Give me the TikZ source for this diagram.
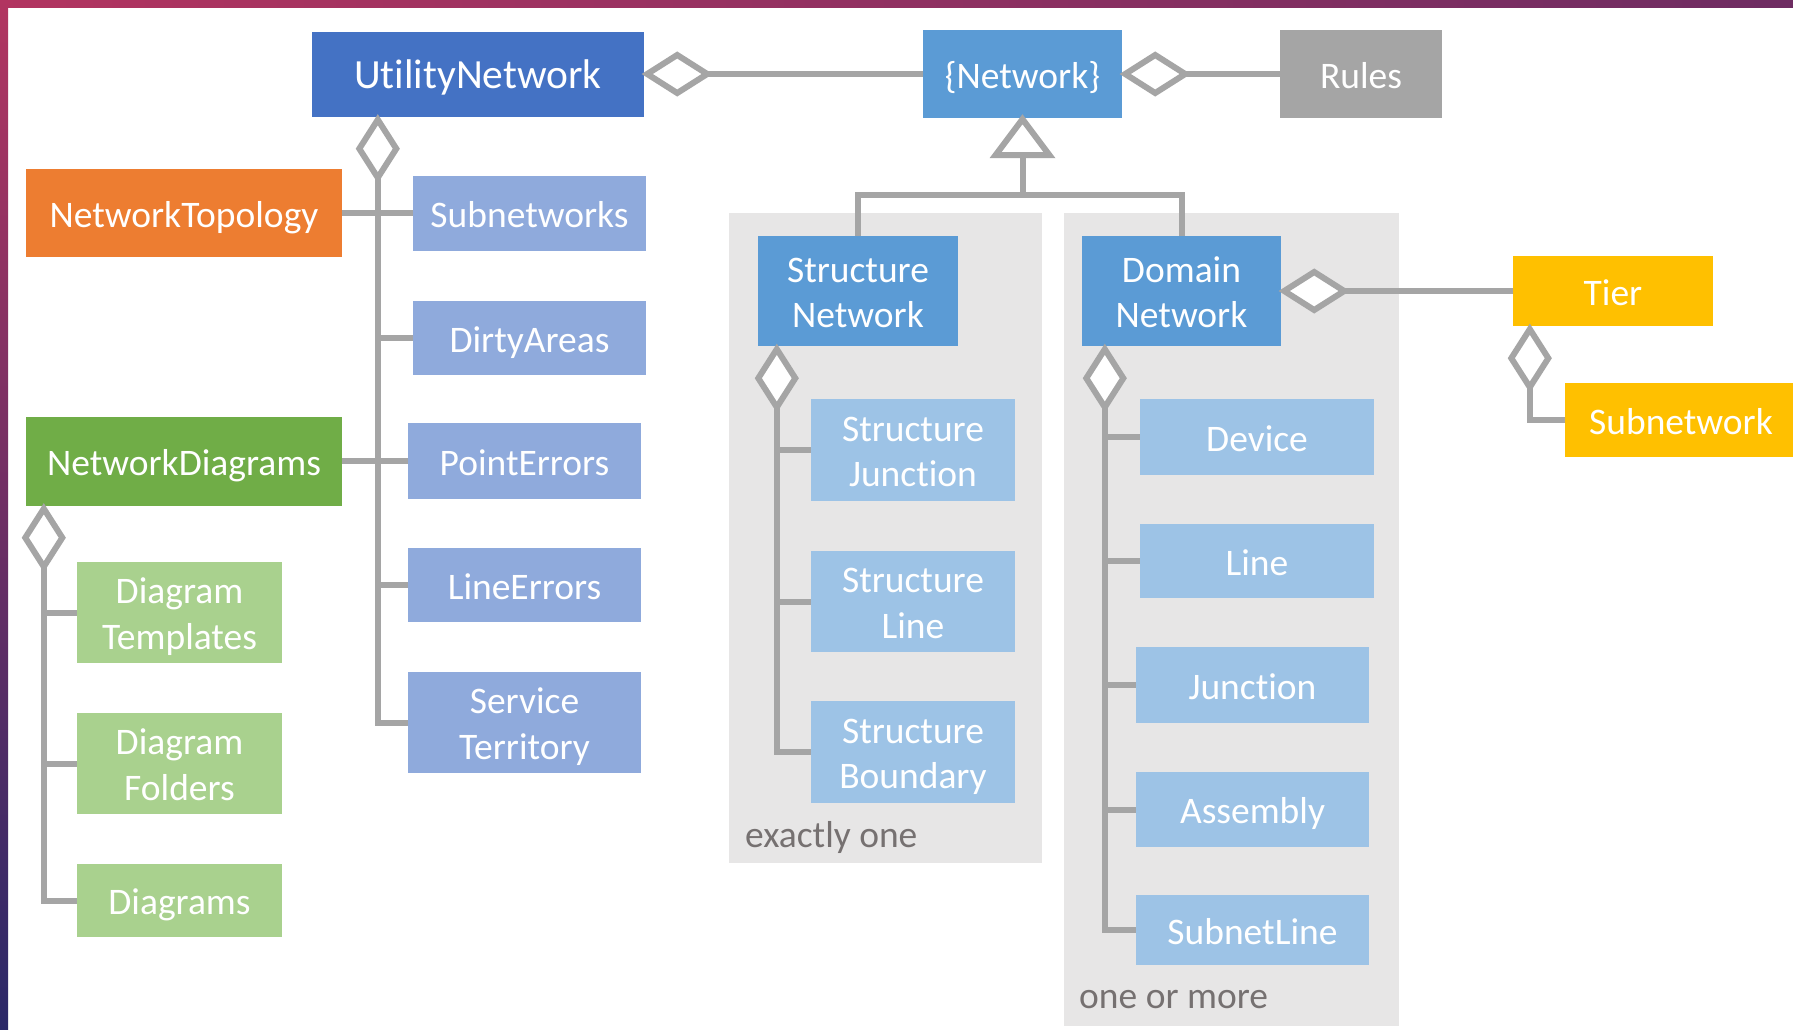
\documentclass[tikz,border=0pt]{standalone}
\usepackage{fontspec}
\setmainfont{Carlito}[RawFeature=-liga]
\usetikzlibrary{calc}
\definecolor{cUtil}{HTML}{4472C4}
\definecolor{cNet}{HTML}{5B9BD5}
\definecolor{cSubU}{HTML}{8FAADC}
\definecolor{cSubN}{HTML}{9DC3E6}
\definecolor{cGrayBox}{HTML}{A5A5A5}
\definecolor{cOrange}{HTML}{ED7D31}
\definecolor{cGreen}{HTML}{70AD47}
\definecolor{cLGreen}{HTML}{A9D18E}
\definecolor{cGold}{HTML}{FFC000}
\definecolor{cPanel}{HTML}{E7E6E6}
\definecolor{cLine}{HTML}{A5A5A5}
\definecolor{cNote}{HTML}{767171}
\definecolor{cBandA}{RGB}{178,52,96}
\definecolor{cBandB}{RGB}{110,44,98}
\definecolor{cBandC}{RGB}{42,40,104}
\newcommand\mystrut{\rule[-8pt]{0pt}{44pt}}
\begin{document}
\begin{tikzpicture}[x=1pt,y=-1pt,
  box/.style={rectangle, inner sep=0pt, align=center, text=white,
    font=\fontsize{37.5}{45.5}\selectfont},
  conn/.style={draw=cLine, line width=6pt, line join=miter},
  note/.style={inner sep=0pt, anchor=base west, text=cNote,
    font=\fontsize{37.5}{45.5}\selectfont}]
\clip (0,0) rectangle (1793,1029);
\fill[white] (0,0) rectangle (1793,1029);
\begin{scope}[y=1pt]
  \shade[left color=cBandA, right color=cBandB] (0,-7) rectangle (1793,0);
  \shade[top color=cBandA, bottom color=cBandC] (0,-1029) rectangle (8,0);
\end{scope}

% panels
\fill[cPanel] (729,213) rectangle (1042,863);
\fill[cPanel] (1064,213) rectangle (1399,1026);
\node[note] (n1) at (745,847) {exactly one};
\node[note] (n2) at (1079,1008) {one or more};

% nodes
\node[box, fill=cUtil, minimum width=332pt, minimum height=85pt,
  font=\fontsize{41.5}{48}\selectfont] (util) at (478,74) {\mystrut UtilityNetwork};
\node[box, fill=cNet, minimum width=199pt, minimum height=88pt] (net) at (1022.5,74) {\mystrut\{Network\}};
\node[box, fill=cGrayBox, minimum width=162pt, minimum height=88pt] (rules) at (1361,74) {\mystrut Rules};
\node[box, fill=cOrange, minimum width=316pt, minimum height=88pt] (topo) at (184,213) {\mystrut NetworkTopology};
\node[box, fill=cSubU, minimum width=233pt, minimum height=75pt] (sub) at (529.5,213) {\mystrut Subnetworks};
\node[box, fill=cSubU, minimum width=233pt, minimum height=74pt] (dirty) at (529.5,338) {\mystrut DirtyAreas};
\node[box, fill=cSubU, minimum width=233pt, minimum height=76pt] (perr) at (524.5,461) {\mystrut PointErrors};
\node[box, fill=cSubU, minimum width=233pt, minimum height=74pt] (lerr) at (524.5,585) {\mystrut LineErrors};
\node[box, fill=cSubU, minimum width=233pt, minimum height=101pt] (sterr) at (524.5,722.5) {\mystrut Service\\\mystrut Territory};
\node[box, fill=cGreen, minimum width=316pt, minimum height=89pt] (ndiag) at (184,461) {\mystrut NetworkDiagrams};
\node[box, fill=cLGreen, minimum width=205pt, minimum height=101pt] (dtemp) at (179.5,612.5) {\mystrut Diagram\\\mystrut Templates};
\node[box, fill=cLGreen, minimum width=205pt, minimum height=101pt] (dfold) at (179.5,763.5) {\mystrut Diagram\\\mystrut Folders};
\node[box, fill=cLGreen, minimum width=205pt, minimum height=73pt] (diags) at (179.5,900.5) {\mystrut Diagrams};
\node[box, fill=cNet, minimum width=200pt, minimum height=110pt] (snet) at (858,291) {\mystrut Structure\\\mystrut Network};
\node[box, fill=cNet, minimum width=199pt, minimum height=110pt] (dnet) at (1181.5,291) {\mystrut Domain\\\mystrut Network};
\node[box, fill=cSubN, minimum width=204pt, minimum height=102pt] (sjunc) at (913,450) {\mystrut Structure\\\mystrut Junction};
\node[box, fill=cSubN, minimum width=204pt, minimum height=101pt] (sline) at (913,601.5) {\mystrut Structure\\\mystrut Line};
\node[box, fill=cSubN, minimum width=204pt, minimum height=102pt] (sbound) at (913,752) {\mystrut Structure\\\mystrut Boundary};
\node[box, fill=cSubN, minimum width=234pt, minimum height=76pt] (dev) at (1257,437) {\mystrut Device};
\node[box, fill=cSubN, minimum width=234pt, minimum height=74pt] (line) at (1257,561) {\mystrut Line};
\node[box, fill=cSubN, minimum width=233pt, minimum height=76pt] (junc) at (1252.5,685) {\mystrut Junction};
\node[box, fill=cSubN, minimum width=233pt, minimum height=75pt] (asm) at (1252.5,809.5) {\mystrut Assembly};
\node[box, fill=cSubN, minimum width=233pt, minimum height=70pt] (snl) at (1252.5,930) {\mystrut SubnetLine};
\node[box, fill=cGold, minimum width=200pt, minimum height=70pt] (tier) at (1613,291) {\mystrut Tier};
\node[box, fill=cGold, minimum width=232pt, minimum height=74pt] (subn) at (1681,420) {\mystrut Subnetwork};

% horizontal aggregations
\draw[conn] ($(util.east)+(63,0)$) -- (net.west);
\draw[conn, fill=white] ($(util.east)+(3,0)$) -- ++(30,-19) -- ++(30,19) -- ++(-30,19) -- cycle;
\draw[conn] ($(net.east)+(63,0)$) -- (rules.west);
\draw[conn, fill=white] ($(net.east)+(3,0)$) -- ++(30,-19) -- ++(30,19) -- ++(-30,19) -- cycle;
\draw[conn] ($(dnet.east)+(63,0)$) -- (tier.west);
\draw[conn, fill=white] ($(dnet.east)+(3,0)$) -- ++(30,-19) -- ++(30,19) -- ++(-30,19) -- cycle;

% UtilityNetwork tree
\coordinate (uT) at ($(util.south west)+(66,3)$);
\draw[conn] ($(uT)+(0,58)$) |- (sterr.west);
\foreach \n in {sub,dirty,perr,lerr} \draw[conn] (\n.west) -- (\n.west -| uT);
\draw[conn] (topo.east) -- (sub.west);
\draw[conn] (ndiag.east) -- (perr.west);
\draw[conn, fill=white] (uT) -- ++(18.5,29) -- ++(-18.5,29) -- ++(-18.5,-29) -- cycle;

% NetworkDiagrams tree
\coordinate (nT) at ($(ndiag.south west)+(18,3)$);
\draw[conn] ($(nT)+(0,58)$) |- (diags.west);
\foreach \n in {dtemp,dfold} \draw[conn] (\n.west) -- (\n.west -| nT);
\draw[conn, fill=white] (nT) -- ++(18.5,29) -- ++(-18.5,29) -- ++(-18.5,-29) -- cycle;

% Structure network tree
\coordinate (sT) at ($(snet.south west)+(19,3)$);
\draw[conn] ($(sT)+(0,58)$) |- (sbound.west);
\foreach \n in {sjunc,sline} \draw[conn] (\n.west) -- (\n.west -| sT);
\draw[conn, fill=white] (sT) -- ++(18.5,29) -- ++(-18.5,29) -- ++(-18.5,-29) -- cycle;

% Domain network tree
\coordinate (dT) at ($(dnet.south west)+(23,3)$);
\draw[conn] ($(dT)+(0,58)$) |- (snl.west);
\foreach \n in {dev,line,junc,asm} \draw[conn] (\n.west) -- (\n.west -| dT);
\draw[conn, fill=white] (dT) -- ++(18.5,29) -- ++(-18.5,29) -- ++(-18.5,-29) -- cycle;

% Tier
\coordinate (tT) at ($(tier.south west)+(17,3)$);
\draw[conn] ($(tT)+(0,58)$) |- (subn.west);
\draw[conn, fill=white] (tT) -- ++(18.5,29) -- ++(-18.5,29) -- ++(-18.5,-29) -- cycle;

% generalization
\draw[conn] ($(net.south)+(0,37)$) -- ++(0,40) coordinate (gen);
\draw[conn] (snet.north) |- (gen) -| (dnet.north);
\draw[conn, fill=white] ($(net.south)+(0,1)$) -- ++(27,36) -- ++(-54,0) -- cycle;
\end{tikzpicture}
\end{document}
